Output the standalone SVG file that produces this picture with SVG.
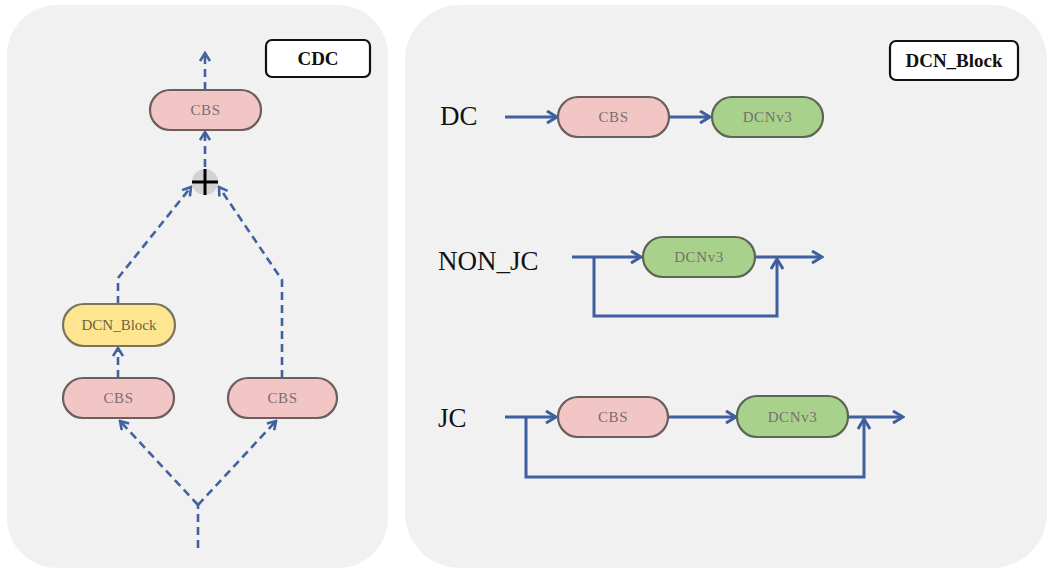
<svg xmlns="http://www.w3.org/2000/svg" width="1049" height="570" viewBox="0 0 1049 570">
  <style>
    .panel { fill: #f1f1f1; stroke: none; }
    .tag { fill: #ffffff; stroke: #111111; stroke-width: 2.2; }
    .tag-text { font-family: "Liberation Serif", "DejaVu Serif", serif; font-weight: bold; font-size: 19px; fill: #111111; text-anchor: middle; }
    .cbs { fill: #f3c6c6; stroke: #6b5e5e; stroke-width: 2.2; }
    .dcn { fill: #a8d28c; stroke: #5c6656; stroke-width: 2.2; }
    .blk { fill: #fde68f; stroke: #7a7260; stroke-width: 2.2; }
    .node-text { font-family: "Liberation Serif", "DejaVu Serif", serif; font-size: 15px; letter-spacing: 0.6px; fill: #7a6e6e; text-anchor: middle; }
    .blk-text { font-family: "Liberation Serif", "DejaVu Serif", serif; font-size: 15px; fill: #6e6440; text-anchor: middle; }
    .label { font-family: "Liberation Serif", "DejaVu Serif", serif; font-size: 27px; fill: #111111; }
    .dash { fill: none; stroke: #40629f; stroke-width: 2.6; stroke-dasharray: 8 5; }
    .solid { fill: none; stroke: #3f5f9e; stroke-width: 3; }
  </style>
  <defs>
    <marker id="chev" viewBox="0 0 12 12" refX="10" refY="6" markerWidth="12" markerHeight="12" markerUnits="userSpaceOnUse" orient="auto">
      <path d="M2,1 L10,6 L2,11" fill="none" stroke="#40629f" stroke-width="2.6"/>
    </marker>
    <marker id="chevS" viewBox="0 0 14 14" refX="12" refY="7" markerWidth="14" markerHeight="14" markerUnits="userSpaceOnUse" orient="auto">
      <path d="M2,1 L12,7 L2,13" fill="none" stroke="#3f5f9e" stroke-width="3"/>
    </marker>
  </defs>

  <!-- background panels -->
  <rect x="7" y="5" width="381" height="563" rx="50" class="panel"/>
  <rect x="405" y="5" width="642" height="563" rx="55" class="panel"/>

  <!-- connectors -->
  <g id="connectors">
    <!-- CDC module -->
    <path class="dash" d="M205,90 L205,53" marker-end="url(#chev)"/>
    <path class="dash" d="M205,167 L205,132" marker-end="url(#chev)"/>
    <path class="dash" d="M118,304 L118,278 L191,187" marker-end="url(#chev)"/>
    <path class="dash" d="M282,378 L282,280 L219,187" marker-end="url(#chev)"/>
    <path class="dash" d="M118,378 L118,348" marker-end="url(#chev)"/>
    <path class="dash" d="M198,548 L198,505"/>
    <path class="dash" d="M198,505 L120,421" marker-end="url(#chev)"/>
    <path class="dash" d="M198,505 L276,421" marker-end="url(#chev)"/>

    <!-- DC -->
    <path class="solid" d="M505,117 L557,117" marker-end="url(#chevS)"/>
    <path class="solid" d="M670,117 L710,117" marker-end="url(#chevS)"/>

    <!-- NON_JC -->
    <path class="solid" d="M572,257 L641,257" marker-end="url(#chevS)"/>
    <path class="solid" d="M755,257 L822,257" marker-end="url(#chevS)"/>
    <path class="solid" d="M594,257 L594,316 L777,316 L777,259" marker-end="url(#chevS)"/>

    <!-- JC -->
    <path class="solid" d="M505,417 L556,417" marker-end="url(#chevS)"/>
    <path class="solid" d="M668,417 L736,417" marker-end="url(#chevS)"/>
    <path class="solid" d="M848,417 L903,417" marker-end="url(#chevS)"/>
    <path class="solid" d="M526,417 L526,477 L864,477 L864,419" marker-end="url(#chevS)"/>
  </g>

  <!-- CDC module nodes -->
  <g id="cdc-tag">
    <rect x="266" y="40" width="104" height="37" rx="6" class="tag"/>
    <text x="318" y="65" class="tag-text">CDC</text>
  </g>
  <g id="cdc-cbs-out">
    <rect x="150" y="90" width="111" height="40" rx="20" class="cbs"/>
    <text x="205.5" y="115" class="node-text">CBS</text>
  </g>
  <g id="cdc-add">
    <circle cx="205" cy="182" r="13" fill="#d2d2d2"/>
    <path d="M192,182 L218,182 M205,169 L205,195" stroke="#000000" stroke-width="3"/>
  </g>
  <g id="cdc-dcn-block">
    <rect x="63" y="304" width="112" height="42" rx="21" class="blk"/>
    <text x="119" y="330" class="blk-text">DCN_Block</text>
  </g>
  <g id="cdc-cbs-left">
    <rect x="63" y="378" width="111" height="40" rx="20" class="cbs"/>
    <text x="118.5" y="403" class="node-text">CBS</text>
  </g>
  <g id="cdc-cbs-right">
    <rect x="228" y="378" width="109" height="40" rx="20" class="cbs"/>
    <text x="282.5" y="403" class="node-text">CBS</text>
  </g>

  <!-- DCN_Block variants -->
  <g id="block-tag">
    <rect x="890" y="41" width="128" height="39" rx="6" class="tag"/>
    <text x="954" y="67" class="tag-text">DCN_Block</text>
  </g>

  <g id="dc-label"><text x="440" y="125" class="label">DC</text></g>
  <g id="dc-cbs">
    <rect x="558" y="97" width="111" height="40" rx="20" class="cbs"/>
    <text x="613.5" y="122" class="node-text">CBS</text>
  </g>
  <g id="dc-dcnv3">
    <rect x="712" y="97" width="111" height="40" rx="20" class="dcn"/>
    <text x="767.5" y="122" class="node-text">DCNv3</text>
  </g>

  <g id="nonjc-label"><text x="438" y="270" class="label">NON_JC</text></g>
  <g id="nonjc-dcnv3">
    <rect x="643" y="237" width="112" height="40" rx="20" class="dcn"/>
    <text x="699" y="262" class="node-text">DCNv3</text>
  </g>

  <g id="jc-label"><text x="438" y="427" class="label">JC</text></g>
  <g id="jc-cbs">
    <rect x="558" y="397" width="110" height="40" rx="20" class="cbs"/>
    <text x="613" y="422" class="node-text">CBS</text>
  </g>
  <g id="jc-dcnv3">
    <rect x="737" y="396" width="111" height="41" rx="20" class="dcn"/>
    <text x="792.5" y="422" class="node-text">DCNv3</text>
  </g>
</svg>
